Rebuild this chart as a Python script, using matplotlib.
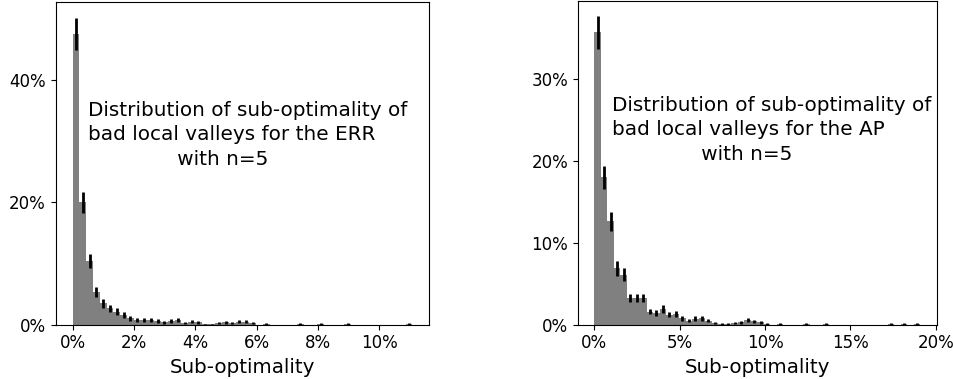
import numpy as np
import matplotlib
matplotlib.use('Agg')
import matplotlib.pyplot as plt
from matplotlib.ticker import PercentFormatter

# ERR, n=5 : 50 bins over [0, 11.07] %
err_max = 11.07
err_freq = [47.6, 20.0, 10.4, 5.3, 3.5, 2.7, 2.1, 1.6, 1.05, 0.8,
            0.8, 0.75, 0.6, 0.4, 0.6, 0.8, 0.3, 0.5, 0.4, 0.05,
            0.05, 0.3, 0.4, 0.3, 0.5, 0.5, 0.3, 0.0, 0.1, 0.0,
            0.0, 0.0, 0.0, 0.1, 0.0, 0.0, 0.1, 0.0, 0.0, 0.0,
            0.1, 0.0, 0.0, 0.0, 0.0, 0.0, 0.0, 0.0, 0.0, 0.1]
err_std = [2.6, 1.7, 1.2, 0.85, 0.7, 0.6, 0.55, 0.5, 0.4, 0.35,
           0.35, 0.35, 0.3, 0.25, 0.3, 0.35, 0.2, 0.25, 0.25, 0.1,
           0.1, 0.2, 0.25, 0.2, 0.25, 0.25, 0.2, 0.0, 0.1, 0.0,
           0.0, 0.0, 0.0, 0.1, 0.0, 0.0, 0.1, 0.0, 0.0, 0.0,
           0.1, 0.0, 0.0, 0.0, 0.0, 0.0, 0.0, 0.0, 0.0, 0.1]

# AP, n=5 : 50 bins over [0, 19.1] %
ap_max = 19.1
ap_freq = [35.7, 18.0, 12.6, 6.9, 6.1, 3.25, 3.25, 3.25, 1.6, 1.4,
           1.9, 1.2, 1.3, 0.8, 0.5, 0.7, 0.8, 0.5, 0.2, 0.1,
           0.1, 0.2, 0.3, 0.6, 0.4, 0.3, 0.1, 0.0, 0.1, 0.0,
           0.0, 0.0, 0.1, 0.0, 0.0, 0.1, 0.0, 0.0, 0.0, 0.0,
           0.0, 0.0, 0.0, 0.0, 0.0, 0.1, 0.0, 0.1, 0.0, 0.1]
ap_std = [2.0, 1.4, 1.2, 0.9, 0.8, 0.5, 0.5, 0.5, 0.35, 0.35,
          0.45, 0.3, 0.35, 0.3, 0.2, 0.3, 0.3, 0.2, 0.1, 0.1,
          0.1, 0.15, 0.2, 0.25, 0.2, 0.2, 0.1, 0.0, 0.1, 0.0,
          0.0, 0.0, 0.1, 0.0, 0.0, 0.1, 0.0, 0.0, 0.0, 0.0,
          0.0, 0.0, 0.0, 0.0, 0.0, 0.1, 0.0, 0.1, 0.0, 0.1]

pad = " " * 14
panels = [
    (err_max, err_freq, err_std, [0, 2, 4, 6, 8, 10], [0, 20, 40], 52.8,
     "Distribution of sub-optimality of\nbad local valleys for the ERR\n" + pad + "with n=5",
     [0.0584, 0.1433, 0.3916, 0.8515], (0.0865, 0.588)),
    (ap_max, ap_freq, ap_std, [0, 5, 10, 15, 20], [0, 10, 20, 30], 39.5,
     "Distribution of sub-optimality of\nbad local valleys for the AP\n" + pad + "with n=5",
     [0.6059, 0.1433, 0.3760, 0.8540], (0.0948, 0.602)),
]

fig = plt.figure(figsize=(9.54, 3.79), dpi=100)
for vmax, freq, std, xt, yt, ytop, title, pos, tpos in panels:
    ax = fig.add_axes(pos)
    edges = np.linspace(0, vmax, len(freq) + 1)
    centers = (edges[:-1] + edges[1:]) / 2
    ax.bar(edges[:-1], freq, width=np.diff(edges), align='edge', color='gray')
    ax.errorbar(centers, freq, yerr=std, fmt='none', ecolor='black', elinewidth=2)
    ax.set_xticks(xt)
    ax.set_yticks(yt)
    ax.set_ylim(0, ytop)
    ax.xaxis.set_major_formatter(PercentFormatter(decimals=0))
    ax.yaxis.set_major_formatter(PercentFormatter(decimals=0))
    ax.tick_params(labelsize=12)
    ax.set_xlabel("Sub-optimality", fontsize=14.3)
    ax.text(tpos[0], tpos[1], title, transform=ax.transAxes, ha='left',
            va='center', multialignment='left', fontsize=14.4, linespacing=1.38)

plt.savefig("out.png", dpi=100)
